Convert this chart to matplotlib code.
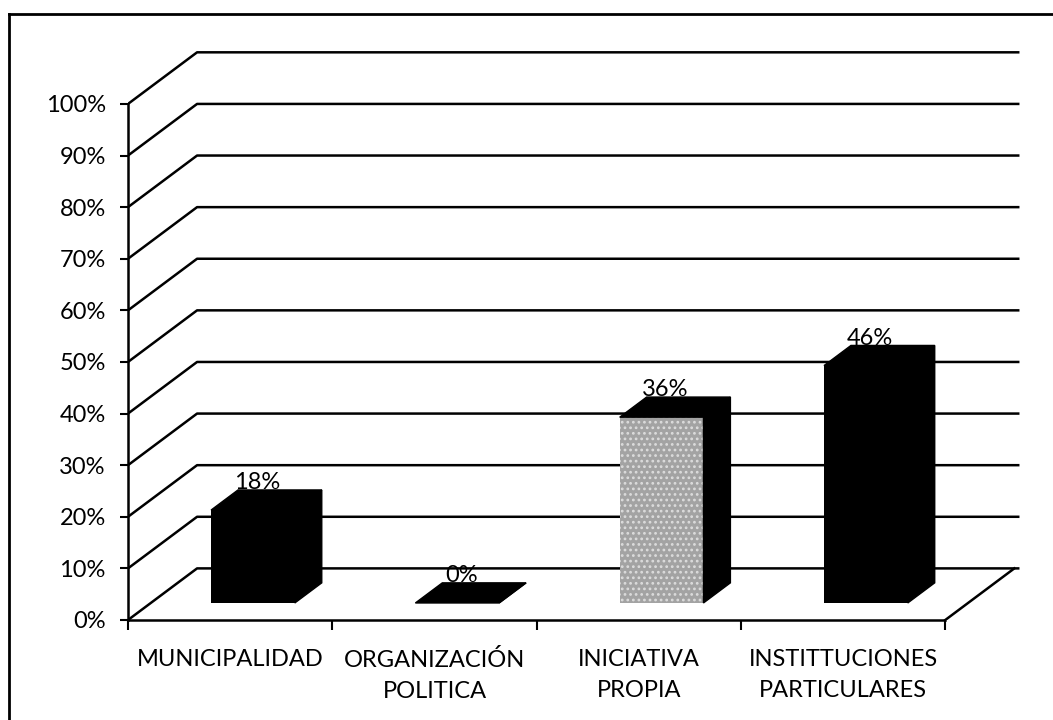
import numpy as np
import matplotlib.pyplot as plt
from matplotlib.lines import Line2D

categorias = ["MUNICIPALIDAD", "ORGANIZACIÓN\nPOLITICA", "INICIATIVA\nPROPIA", "INSTITTUCIONES\nPARTICULARES"]
valores = [18, 0, 36, 46]
etiquetas = ["18%", "0%", "36%", "46%"]
colores = ["black", "black", "#a3a3a3", "black"]
ticks_y = list(range(0, 101, 10))

# desplazamiento de la profundidad (efecto 3D)
DX, DY = 0.338, 10.0
F0, F1 = 0.33, 0.72  # la barra ocupa esta fraccion de la profundidad
ANCHO = 0.41
X_FONDO = 4.357
LW = 1.8

plt.rcParams['font.family'] = ['Lato', 'DejaVu Sans']
plt.rcParams['hatch.linewidth'] = 1.2

fig = plt.figure(figsize=(10.53, 7.2), dpi=100)
ax = fig.add_axes([128 / 1053, 100 / 720, 899 / 1053, 578 / 720])
ax.set_xlim(0, 4.4)
ax.set_ylim(0, 112)

# lineas de la pared lateral y del fondo
for v in ticks_y:
    ax.plot([0, DX, X_FONDO], [v, v + DY, v + DY], color='black', lw=LW, zorder=1)
# borde derecho del piso
ax.plot([len(valores), len(valores) + DX], [0, DY], color='black', lw=LW, zorder=1)

dfx = (F1 - F0) * DX
dfy = (F1 - F0) * DY
for i, v in enumerate(valores):
    x0 = i + 0.5 - ANCHO / 2 + F0 * DX
    y0 = F0 * DY
    if colores[i] == "black":
        ax.bar(x0, v, width=ANCHO, bottom=y0, align='edge', color='black', zorder=3)
    else:
        ax.bar(x0, v, width=ANCHO, bottom=y0, align='edge', facecolor=colores[i],
               edgecolor='#dcdcdc', hatch='...', lw=0, zorder=3)
    arriba = [(x0, y0 + v), (x0 + ANCHO, y0 + v),
              (x0 + ANCHO + dfx, y0 + v + dfy), (x0 + dfx, y0 + v + dfy)]
    lado = [(x0 + ANCHO, y0), (x0 + ANCHO + dfx, y0 + dfy),
            (x0 + ANCHO + dfx, y0 + v + dfy), (x0 + ANCHO, y0 + v)]
    ax.fill(*zip(*arriba), facecolor='black', edgecolor='black', lw=1, zorder=3)
    ax.fill(*zip(*lado), facecolor='black', edgecolor='black', lw=1, zorder=3)
    ax.text(x0 + ANCHO / 2 + 0.02, y0 + v + dfy - 0.6, etiquetas[i], ha='center', va='bottom',
            fontsize=17, zorder=4)

for s in ['top', 'right']:
    ax.spines[s].set_visible(False)
ax.spines['left'].set_bounds(0, 100)
ax.spines['bottom'].set_bounds(0, len(valores))
ax.spines['left'].set_linewidth(LW)
ax.spines['bottom'].set_linewidth(LW)

ax.set_yticks(ticks_y)
ax.set_yticklabels([f"{v}%" for v in ticks_y], fontsize=17)
ax.tick_params(axis='y', length=6, width=1.5, pad=10)

ax.set_xticks(np.arange(len(valores) + 1))
ax.set_xticklabels([])
ax.set_xticks(np.arange(len(valores)) + 0.5, minor=True)
ax.set_xticklabels(categorias, minor=True, fontsize=17, linespacing=1.55)
ax.tick_params(axis='x', which='major', length=7, width=1.5)
ax.tick_params(axis='x', which='minor', length=0, pad=21)

# marco exterior (solo se ven el borde superior y el izquierdo)
fig.add_artist(Line2D([9 / 1053, 1], [1 - 14 / 720, 1 - 14 / 720], transform=fig.transFigure,
                      color='black', lw=2))
fig.add_artist(Line2D([9 / 1053, 9 / 1053], [0, 1 - 14 / 720], transform=fig.transFigure,
                      color='black', lw=2))

fig.savefig("out.png", dpi=100)
